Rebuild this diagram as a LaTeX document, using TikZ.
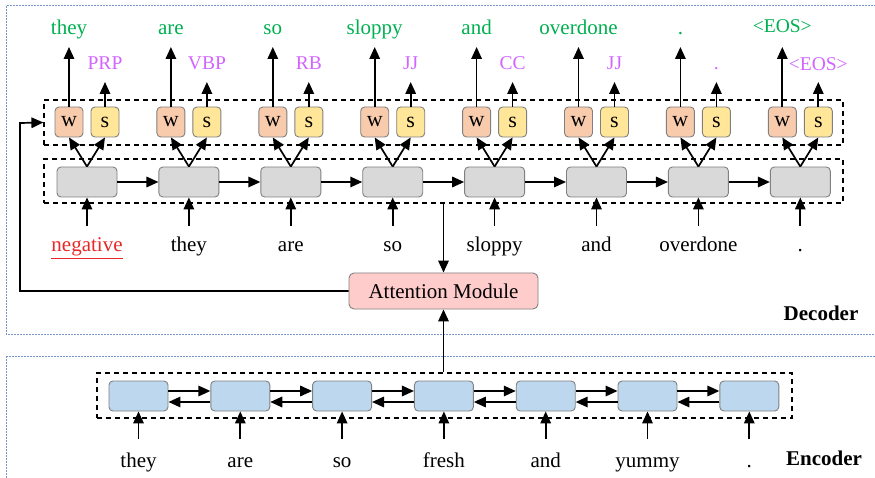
\documentclass[tikz,border=0pt]{standalone}
\usepackage{fontspec}
\setmainfont{Liberation Serif}
\usetikzlibrary{arrows.meta,calc}

\definecolor{wordgreen}{RGB}{0,176,80}
\definecolor{tagpurple}{RGB}{210,100,255}
\definecolor{negred}{RGB}{232,40,40}
\definecolor{wfill}{RGB}{248,203,173}
\definecolor{sfill}{RGB}{255,230,153}
\definecolor{cellgray}{RGB}{217,217,217}
\definecolor{cellblue}{RGB}{189,215,238}
\definecolor{attpink}{RGB}{255,204,204}
\definecolor{cellborder}{RGB}{128,128,128}
\definecolor{framecol}{RGB}{120,148,200}

\begin{document}
\begin{tikzpicture}[x=1pt,y=-1pt,
  arr/.style={-{Triangle[length=12pt,width=10.5pt]}, line width=1.7pt},
  cell/.style={draw=cellborder, line width=0.9pt, rounded corners=4pt,
               minimum width=60pt, minimum height=30pt, inner sep=0pt},
  tagbox/.style={cell, minimum width=28pt, font=\fontsize{22}{24}\selectfont},
  dbox/.style={draw, dash pattern=on 5pt off 4pt, line width=1.2pt, inner sep=0pt},
  frame/.style={draw=framecol, dash pattern=on 2pt off 1pt, line width=1pt},
  word/.style={font=\fontsize{21}{24}\selectfont, anchor=base, inner sep=0pt},
  tag/.style={font=\fontsize{19.5}{22}\selectfont, anchor=base, inner sep=0pt, text=tagpurple},
  title/.style={font=\fontsize{21}{24}\selectfont\bfseries, anchor=base, inner sep=0pt}
]
\useasboundingbox (0,0) rectangle (875,478);
\clip (0,0) rectangle (875,478);

% decoder and encoder frames
\draw[frame] (6,6) rectangle (890,334);
\draw[frame] (6,356) rectangle (890,490);

% dashed groupings
\node[dbox, minimum width=799pt, minimum height=45pt] (wsrow) at (443.5,122.5) {};
\node[dbox, minimum width=799pt, minimum height=44pt] (decrow) at (443.5,181) {};
\node[dbox, minimum width=695pt, minimum height=45pt] (encrow) at (444.5,395.5) {};

% decoder cells with word / tag heads
\foreach \i in {0,...,7}{
  \node[cell, fill=cellgray] (g\i) at ({87+101.9*\i},182) {};
  \node[tagbox, fill=wfill] (w\i) at ({69+101.9*\i},122) {w};
  \node[tagbox, fill=sfill] (s\i) at ({105+101.9*\i},122) {s};
  \draw[arr] (g\i.north) -- (w\i.south);
  \draw[arr] (g\i.north) -- (s\i.south);
  \coordinate (tw\i) at ({69+101.9*\i},47);
  \coordinate (ts\i) at ({105+101.9*\i},82);
  \coordinate (ti\i) at ({87+101.9*\i},226);
  \draw[arr] (w\i.north) -- (tw\i);
  \draw[arr] (s\i.north) -- (ts\i);
  \draw[arr] (ti\i) -- (g\i.south);
}
\foreach \i [count=\j from 1] in {0,...,6}{
  \draw[arr] (g\i.east) -- (g\j.west);
}

% predicted words and tags
\foreach \i/\gw/\pt in {0/they/PRP,1/are/VBP,2/so/RB,3/sloppy/JJ,4/and/CC,5/overdone/JJ,6/./.}{
  \node[word, text=wordgreen] (ow\i) at ({69+101.9*\i},35) {\gw};
  \node[tag] (os\i) at ({105+101.9*\i},70) {\pt};
}
\node[word, text=wordgreen, font=\fontsize{19.5}{22}\selectfont] (ow7) at ({69+101.9*7},33) {\textless EOS\textgreater};
\node[tag] (os7) at ({105+101.9*7},71) {\textless EOS\textgreater};

% decoder inputs
\node[word, text=negred] (in0) at (87,252) {\underline{negative}};
\foreach \i/\iw in {1/they,2/are,3/so,4/sloppy,5/and,6/overdone,7/.}{
  \node[word] (in\i) at ({87+101.9*\i},252) {\iw};
}

% attention module
\node[draw=cellborder, fill=attpink, line width=0.9pt, rounded corners=5pt,
      minimum width=189pt, minimum height=36pt, inner sep=0pt,
      font=\fontsize{21}{24}\selectfont] (att) at (443.5,291) {Attention Module};
\draw[arr] (att.north |- decrow.south) -- (att.north);
\draw[arr] (att.south |- encrow.north) -- (att.south);
\coordinate (fb) at (20,123);
\draw[arr] (att.west) -| (fb) -- (wsrow.west);

% encoder cells
\foreach \i in {0,...,6}{
  \node[cell, fill=cellblue, minimum width=59pt] (e\i) at ({138.5+101.8*\i},396) {};
  \coordinate (te\i) at ({138.5+101.8*\i},439);
  \draw[arr] (te\i) -- (e\i.south);
}
\foreach \i [count=\j from 1] in {0,...,5}{
  \draw[arr] ([yshift=5pt]e\i.east) -- ([yshift=5pt]e\j.west);
  \draw[arr] ([yshift=-6pt]e\j.west) -- ([yshift=-6pt]e\i.east);
}
\foreach \i/\iw in {0/they,1/are,2/so,3/fresh,4/and,5/yummy,6/.}{
  \node[word] (ein\i) at ({138.5+101.8*\i},467) {\iw};
}

% section titles
\node[title] (dectitle) at (821,320) {Decoder};
\node[title] (enctitle) at (824,465) {Encoder};
\end{tikzpicture}
\end{document}
